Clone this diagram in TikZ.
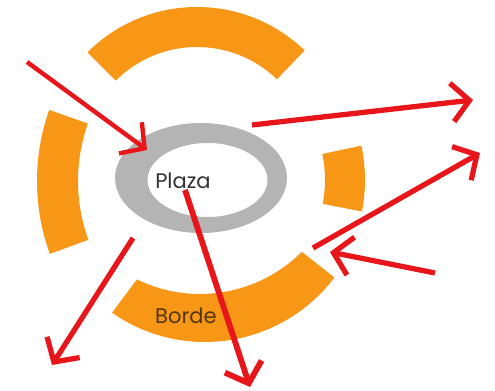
\documentclass[tikz,border=0pt]{standalone}
\usepackage{fontspec}
\setmainfont{Poppins}
\usepackage{xcolor}
\usepackage{tikz}
\usetikzlibrary{arrows.meta,positioning,calc}
\definecolor{naranja}{RGB}{248,150,22}
\definecolor{gris}{RGB}{180,180,180}
\definecolor{rojo}{RGB}{232,22,26}
\definecolor{cafe}{RGB}{85,55,15}
\tikzset{
    tramo/.style={fill=naranja},
    anillo/.style={fill=gris, even odd rule},
    flecha/.style={
        -{Straight Barb[length=10pt,width=22pt]},
        draw=rojo,
        line width=3pt
    },
    etiqueta/.style={font=\fontsize{12}{14}\selectfont, inner sep=0pt}
}

\begin{document}
\begin{tikzpicture}[x=0.02cm, y=0.02cm]
    \useasboundingbox (0,0) rectangle (495,391);

    % tramos del borde
    \fill[tramo, shift={(197,229)}] (46:155) arc[start angle=46, end angle=135, radius=155]
        -- (135:115) arc[start angle=135, end angle=46, radius=115] -- cycle;
    \fill[tramo, shift={(250,210)}] (160.5:213) arc[start angle=160.5, end angle=200, radius=213]
        -- (200:172) arc[start angle=200, end angle=160.5, radius=172] -- cycle;
    \fill[tramo, shift={(200,211)}] (-11:165) arc[start angle=-11, end angle=12, radius=165]
        -- (12:125) arc[start angle=12, end angle=-11, radius=125] -- cycle;
    \fill[tramo] ($(205,211)+(235:162)$) arc[start angle=235, end angle=323, radius=162]
        -- ($(200,241)+(315:144)$) arc[start angle=315, end angle=244, radius=144] -- cycle;

    % plaza
    \fill[anillo] (201,213) ellipse[x radius=86, y radius=55]
        (207.5,211) ellipse[x radius=60, y radius=37];

    \node[etiqueta, text=black!80] (plaza) at (183,210) {Plaza};
    \node[etiqueta, text=cafe] (borde) at (186,75) {Borde};

    \coordinate (e1a) at (27,329);  \coordinate (e1b) at (147,241);
    \coordinate (s1a) at (252,266); \coordinate (s1b) at (473,291);
    \coordinate (s2a) at (313,143); \coordinate (s2b) at (480,238);
    \coordinate (e2a) at (435,118); \coordinate (e2b) at (330,139);
    \coordinate (s3a) at (133,153); \coordinate (s3b) at (52,26);
    \coordinate (s4a) at (185,201); \coordinate (s4b) at (250,4);

    \draw[flecha, line width=2.5pt] (e1a) -- (e1b);
    \draw[flecha] (s1a) -- (s1b);
    \draw[flecha] (s2a) -- (s2b);
    \draw[flecha] (e2a) -- (e2b);
    \draw[flecha] (s3a) -- (s3b);
    \draw[flecha, line width=3.3pt] (s4a) -- (s4b);
\end{tikzpicture}
\end{document}
